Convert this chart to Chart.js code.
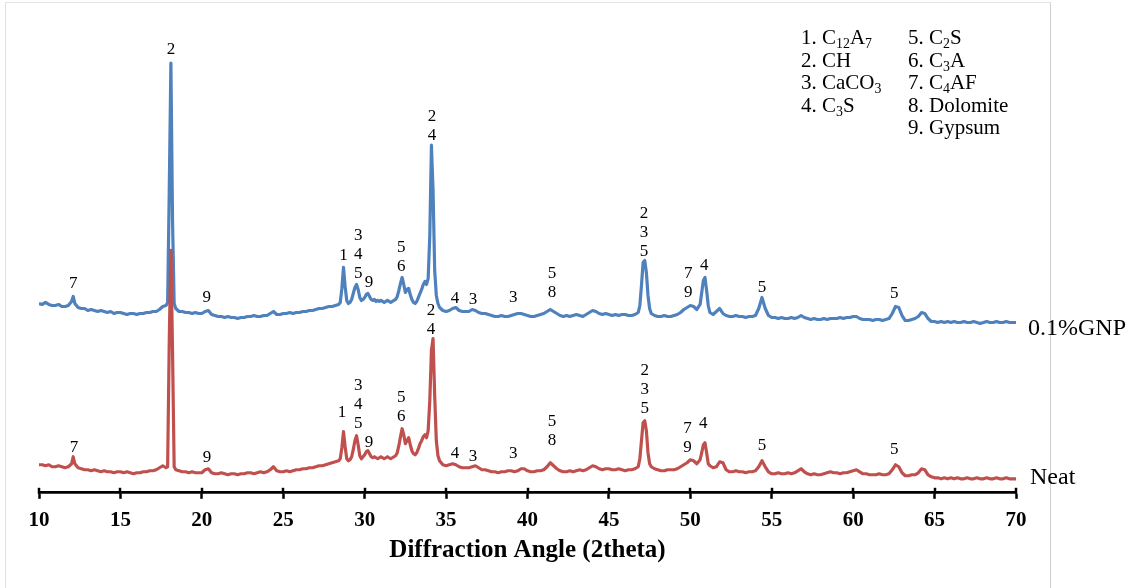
<!DOCTYPE html>
<html>
<head>
<meta charset="utf-8">
<title>XRD patterns</title>
<script src="https://cdn.jsdelivr.net/npm/chart.js@4.4.1/dist/chart.umd.min.js"></script>
<style>
  html, body { margin: 0; padding: 0; background: #fff; }
  #wrap { position: relative; width: 1136px; height: 588px; overflow: hidden; }
  #frame { position: absolute; left: 5px; top: 2px; width: 1044px; height: 640px;
           border-top: 1px solid #e4e4e4; border-left: 1px solid #e2e2e2; border-right: 1px solid #cfcfcf; }
  #xrd { position: absolute; left: 0; top: 0; }
  #phases { position: absolute; left: 801px; top: 26px; display: flex; gap: 0;
            font-family: 'Liberation Serif', 'Times New Roman', serif; font-size: 21px; color: #000; }
  #phases .col { line-height: 22.5px; white-space: nowrap; }
  #phases .col:first-child { width: 107px; }
  #phases sub { font-size: 0.66em; line-height: 0; vertical-align: -0.3em; }
</style>
</head>
<body>
<div id="wrap">
  <div id="frame"></div>
  <canvas id="xrd" width="1136" height="588"></canvas>
  <div id="phases"><div class="col" id="phaseCol1"></div><div class="col" id="phaseCol2"></div></div>
</div>
<script>
// 2theta positions (deg), finer step across the sharp reflections
const twoTheta = [
  10.0,10.2,10.4,10.6,10.8,11.0,11.2,11.4,11.6,11.8,
  12.0,12.1,12.2,12.4,12.6,12.8,13.0,13.2,13.4,13.6,
  13.8,14.0,14.2,14.4,14.6,14.8,15.0,15.2,15.4,15.6,
  15.8,16.0,16.2,16.4,16.6,16.8,17.0,17.2,17.4,17.6,
  17.8,17.9,18.0,18.1,18.2,18.3,
  18.4,18.6,18.8,19.0,19.2,19.4,19.6,19.8,20.0,20.2,
  20.4,20.6,20.8,21.0,21.2,21.4,21.6,21.8,22.0,22.2,
  22.4,22.6,22.8,23.0,23.2,23.4,23.6,23.8,24.0,24.2,
  24.4,24.6,24.8,25.0,25.2,25.4,25.6,25.8,26.0,26.2,
  26.4,26.6,26.8,27.0,27.2,27.4,27.6,27.8,28.0,28.2,
  28.4,
  28.5,28.6,28.7,28.8,28.9,29.0,29.1,29.2,29.3,29.4,
  29.5,29.6,29.7,29.8,29.9,30.0,30.1,30.2,30.3,30.4,
  30.5,30.6,30.7,30.8,30.9,31.0,31.1,31.2,31.3,31.4,
  31.5,31.6,31.7,31.8,31.9,32.0,32.1,32.2,32.3,32.4,
  32.5,32.6,32.7,32.8,32.9,33.0,33.1,33.2,33.3,33.4,
  33.5,33.6,33.7,33.8,33.9,34.0,34.1,34.2,34.3,34.4,
  34.5,34.6,
  34.8,35.0,35.2,35.4,35.6,35.8,36.0,36.2,36.4,36.6,
  36.8,37.0,37.2,37.4,37.6,37.8,38.0,38.2,38.4,38.6,
  38.8,39.0,39.2,39.4,39.6,39.8,40.0,40.2,40.4,40.6,
  40.8,41.0,41.2,41.4,41.6,41.8,42.0,42.2,42.4,42.6,
  42.8,43.0,43.2,43.4,43.6,43.8,44.0,44.2,44.4,44.6,
  44.8,45.0,45.2,45.4,45.6,45.8,46.0,46.2,46.4,46.6,
  46.8,
  46.9,47.0,47.1,47.2,47.3,47.4,47.5,
  47.6,47.8,48.0,48.2,48.4,48.6,48.8,49.0,49.2,49.4,
  49.6,49.8,50.0,50.2,50.4,50.6,
  50.7,50.8,50.9,51.0,51.1,
  51.2,51.4,51.6,51.8,52.0,52.2,52.4,52.6,52.8,53.0,
  53.2,53.4,53.6,53.8,54.0,54.2,54.4,54.6,54.8,55.0,
  55.2,55.4,55.6,55.8,56.0,56.2,56.4,56.6,56.8,57.0,
  57.2,57.4,57.6,57.8,58.0,58.2,58.4,58.6,58.8,59.0,
  59.2,59.4,59.6,59.8,60.0,60.2,60.4,60.6,60.8,61.0,
  61.2,61.4,61.6,61.8,62.0,62.2,62.4,62.6,62.8,63.0,
  63.2,63.4,63.6,63.8,64.0,64.2,64.4,64.6,64.8,65.0,
  65.2,65.4,65.6,65.8,66.0,66.2,66.4,66.6,66.8,67.0,
  67.2,67.4,67.6,67.8,68.0,68.2,68.4,68.6,68.8,69.0,
  69.2,69.4,69.6,69.8,70.0
];

// intensity (a.u.), neat paste
const neat = [
  28,28,27,28,26,26,27,26,25,26,
  29,36,29,25,24,23,23,22,23,22,
  21,22,21,21,20,21,21,20,21,20,
  19,20,20,21,21,22,22,23,25,27,
  25,26,152,242,142,26,
  23,22,21,21,20,21,20,20,20,23,
  24,20,19,19,20,19,18,19,19,18,
  19,19,20,20,19,20,21,20,21,23,
  26,22,21,21,22,21,22,23,23,24,
  24,25,25,26,27,27,28,29,30,31,
  32,
  34,45,61,46,34,32,33,36,43,52,
  57,48,37,34,36,38,41,42,39,36,
  35,36,35,34,35,36,35,34,35,36,
  35,34,35,36,37,40,47,56,64,58,
  49,52,55,48,42,39,38,40,44,49,
  52,56,58,55,62,92,142,154,97,52,
  37,32,
  28,27,28,29,28,26,25,25,25,26,
  27,25,23,23,22,21,21,20,21,21,
  22,22,21,22,24,24,22,21,21,22,
  22,23,26,30,27,24,22,21,21,22,
  21,22,23,22,23,25,27,26,24,23,
  24,24,23,23,24,23,22,23,23,24,
  26,
  34,52,70,72,62,40,29,
  26,24,23,22,22,23,23,23,24,26,
  28,30,33,32,29,33,
  40,48,50,40,29,
  27,25,26,31,30,23,21,21,22,21,
  21,20,21,21,22,26,32,26,21,19,
  19,20,19,19,20,19,20,22,24,21,
  19,18,19,18,18,19,20,21,20,20,
  19,20,20,21,22,23,21,19,19,18,
  18,18,19,18,18,19,23,28,26,20,
  17,17,18,18,20,24,23,18,16,15,
  15,14,15,14,15,14,15,14,14,15,
  14,14,15,14,14,15,14,14,15,14,
  14,15,14,14,14
];

// intensity (a.u.), 0.1% GNP paste (plotted shifted up by gnpShift)
const gnp = [
  29,28,30,28,27,27,28,26,26,27,
  31,36,29,25,24,24,22,23,22,21,
  22,21,20,21,19,20,20,19,18,19,
  19,18,19,19,20,20,21,21,23,26,
  27,30,142,269,112,29,
  24,21,21,20,20,19,20,19,19,21,
  22,18,17,16,16,15,16,15,15,14,
  15,15,16,16,17,16,16,17,17,19,
  21,18,18,19,19,20,19,20,20,21,
  21,22,22,23,24,24,25,26,26,27,
  28,
  30,44,65,46,32,29,30,33,39,45,
  48,43,35,32,33,35,38,39,36,33,
  32,33,31,32,31,32,31,30,31,32,
  31,30,31,32,33,36,42,49,55,48,
  40,43,44,38,33,30,29,31,35,39,
  43,48,51,48,54,97,187,142,62,37,
  29,25,
  22,21,22,24,25,22,21,21,21,23,
  22,20,19,19,18,17,16,16,17,16,
  16,17,18,19,19,18,17,16,16,17,
  18,19,21,23,21,19,17,16,17,16,
  17,18,17,16,18,20,22,21,19,18,
  19,18,17,18,17,18,18,17,17,18,
  20,
  27,47,70,72,60,37,24,
  19,17,16,16,17,16,16,17,18,20,
  23,25,27,26,23,28,
  40,52,55,42,27,
  20,18,21,24,19,17,16,16,17,16,
  16,15,16,16,17,24,35,24,17,15,
  15,14,15,14,14,15,14,15,17,15,
  14,13,14,13,13,14,13,14,14,14,
  15,14,15,15,16,16,14,13,13,13,
  12,13,13,12,13,14,19,26,25,17,
  12,12,13,14,16,20,19,14,11,11,
  10,11,10,11,10,11,10,10,11,10,
  10,11,10,9,10,11,10,10,11,10,
  10,11,10,10,10
];
const gnpShift = 160;

// phase key
const phaseNames = ['C<sub>12</sub>A<sub>7</sub>', 'CH', 'CaCO<sub>3</sub>', 'C<sub>3</sub>S',
  'C<sub>2</sub>S', 'C<sub>3</sub>A', 'C<sub>4</sub>AF', 'Dolomite', 'Gypsum'];

// peak assignments: angle, phase ids, label height (a.u.)
const gnpPeakAt = [12.1, 18.1, 20.3, 28.7, 29.6, 30.27, 32.24, 34.14, 35.55, 36.65, 39.12, 41.5, 47.16, 49.87, 50.85, 54.4, 62.52];
const gnpPeakIds = [[7],[2],[9],[1],[3,4,5],[9],[5,6],[2,4],[4],[3],[3],[5,8],[2,3,5],[7,9],[4],[5],[5]];
const gnpPeakY = [49, 283, 35, 77, 59, 50, 66, 197, 34, 33, 35, 40, 81, 40, 67, 45, 39];

const neatPeakAt = [12.15, 20.32, 28.61, 29.6, 30.27, 32.24, 34.08, 35.55, 36.65, 39.12, 41.5, 47.2, 49.83, 50.8, 54.4, 62.52];
const neatPeakIds = [[7],[9],[1],[3,4,5],[9],[5,6],[2,4],[4],[3],[3],[5,8],[2,3,5],[7,9],[4],[5],[5]];
const neatPeakY = [45, 35, 80, 69, 50, 76, 163, 39, 36, 39, 52, 84, 45, 69, 47, 43];

const xTicks = [10, 15, 20, 25, 30, 35, 40, 45, 50, 55, 60, 65, 70];

const SERIF = "'Liberation Serif', 'Times New Roman', serif";
const BLUE = '#4f81bd', RED = '#c0504d';

// phase key in two columns
document.getElementById('phaseCol1').innerHTML = phaseNames.slice(0, 4).map((n, i) => (i + 1) + '. ' + n).join('<br>');
document.getElementById('phaseCol2').innerHTML = phaseNames.slice(4).map((n, i) => (i + 5) + '. ' + n).join('<br>');

// crossing tick marks, peak numbers and series names
const xrdDecor = {
  id: 'xrdDecor',
  afterDatasetsDraw(chart) {
    const { ctx, scales: { x, y } } = chart;
    ctx.save();
    ctx.fillStyle = '#000';
    ctx.textAlign = 'center';
    ctx.textBaseline = 'middle';
    ctx.font = '17px ' + SERIF;
    const drawPeaks = (at, ids, ys, shift) => {
      at.forEach((a, i) => {
        const px = x.getPixelForValue(a);
        const py = y.getPixelForValue(ys[i] + shift);
        const lines = ids[i];
        lines.forEach((n, k) => {
          ctx.fillText(String(n), px, py - (lines.length - 1 - k) * 19);
        });
      });
    };
    drawPeaks(gnpPeakAt, gnpPeakIds, gnpPeakY, gnpShift);
    drawPeaks(neatPeakAt, neatPeakIds, neatPeakY, 0);

    ctx.textAlign = 'left';
    ctx.font = '24px ' + SERIF;
    const xEnd = x.getPixelForValue(70);
    ctx.fillText('0.1%GNP', xEnd + 12, y.getPixelForValue(gnp[gnp.length - 1] + gnpShift) + 6);
    ctx.fillText('Neat', xEnd + 14, y.getPixelForValue(neat[neat.length - 1]) - 1);
    ctx.restore();
  },
  afterDraw(chart) {
    const { ctx, scales: { x } } = chart;
    ctx.save();
    ctx.strokeStyle = '#000';
    ctx.lineWidth = 2.5;
    xTicks.forEach(v => {
      const px = Math.round(x.getPixelForValue(v));
      ctx.beginPath();
      ctx.moveTo(px, x.top - 5);
      ctx.lineTo(px, x.top + 1);
      ctx.stroke();
    });
    ctx.restore();
  }
};

new Chart(document.getElementById('xrd'), {
  type: 'line',
  data: {
    datasets: [
      { label: 'Neat', data: twoTheta.map((a, i) => ({ x: a, y: neat[i] })),
        borderColor: RED, borderWidth: 3.2 },
      { label: '0.1%GNP', data: twoTheta.map((a, i) => ({ x: a, y: gnp[i] + gnpShift })),
        borderColor: BLUE, borderWidth: 3.2 }
    ]
  },
  options: {
    responsive: false,
    animation: false,
    devicePixelRatio: 1,
    layout: { padding: { left: 39, right: 120, top: 12, bottom: 16 } },
    elements: { point: { radius: 0 }, line: { tension: 0, borderJoinStyle: 'round' } },
    plugins: { legend: { display: false }, tooltip: { enabled: false } },
    scales: {
      x: {
        type: 'linear', min: 10, max: 70,
        afterBuildTicks: s => { s.ticks = xTicks.map(v => ({ value: v })); },
        ticks: { color: '#000', padding: 9, maxRotation: 0,
                 font: { family: SERIF, size: 21, weight: 'bold' } },
        grid: { drawOnChartArea: false, drawTicks: true, tickLength: 6,
                tickColor: '#000', tickWidth: 2.5 },
        border: { display: true, color: '#000', width: 2.8 },
        title: { display: true, text: 'Diffraction Angle (2theta)', color: '#000',
                 font: { family: SERIF, size: 25, weight: 'bold' }, padding: { top: -6, bottom: 6 } }
      },
      y: { display: false, min: 0, max: 480 }
    }
  },
  plugins: [xrdDecor]
});
</script>
</body>
</html>
